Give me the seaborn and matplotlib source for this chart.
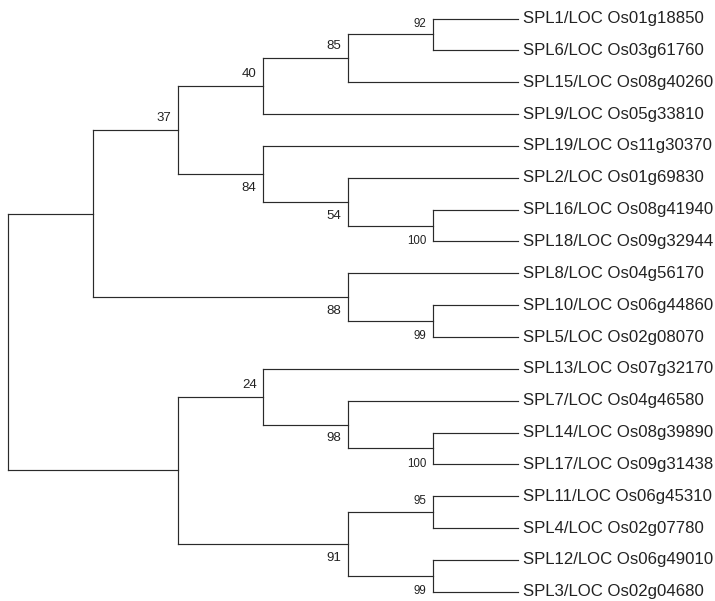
import matplotlib
matplotlib.use("Agg")
import matplotlib.pyplot as plt
import seaborn as sns
import pandas as pd

# ---- data -------------------------------------------------------------
leaf_ids = ["SPL1", "SPL6", "SPL15", "SPL9", "SPL19", "SPL2", "SPL16", "SPL18",
            "SPL8", "SPL10", "SPL5", "SPL13", "SPL7", "SPL14", "SPL17", "SPL11",
            "SPL4", "SPL12", "SPL3"]
leaf_loci = ["LOC Os01g18850", "LOC Os03g61760", "LOC Os08g40260", "LOC Os05g33810",
             "LOC Os11g30370", "LOC Os01g69830", "LOC Os08g41940", "LOC Os09g32944",
             "LOC Os04g56170", "LOC Os06g44860", "LOC Os02g08070", "LOC Os07g32170",
             "LOC Os04g46580", "LOC Os08g39890", "LOC Os09g31438", "LOC Os06g45310",
             "LOC Os02g07780", "LOC Os06g49010", "LOC Os02g04680"]

node_ids = ["N1", "N2", "N3", "N4", "N5", "N6", "N7", "N8", "N9", "N10",
            "N11", "N12", "N13", "N14", "N15", "N16", "N17", "ROOT"]
node_upper = ["SPL1", "N1", "N2", "SPL16", "SPL2", "SPL19", "N3", "SPL10", "SPL8", "N7",
              "SPL14", "SPL7", "SPL13", "SPL11", "SPL12", "N14", "N13", "N10"]
node_lower = ["SPL6", "SPL15", "SPL9", "SPL18", "N4", "N5", "N6", "SPL5", "N8", "N9",
              "SPL17", "N11", "N12", "SPL4", "SPL3", "N15", "N16", "N17"]
node_support = [92, 85, 40, 100, 54, 84, 37, 99, 88, None,
                100, 98, 24, 95, 99, 91, None, None]

# ---- layout (cladogram) -----------------------------------------------
ypos = {lid: i for i, lid in enumerate(leaf_ids)}
height = {lid: 0 for lid in leaf_ids}
children = {}
parent = {}
for nid, up, lo in zip(node_ids, node_upper, node_lower):
    children[nid] = (up, lo)
    parent[up] = (nid, "upper")
    parent[lo] = (nid, "lower")
    ypos[nid] = (ypos[up] + ypos[lo]) / 2.0
    height[nid] = 1 + max(height[up], height[lo])

H = height["ROOT"]
xpos = {k: H - h for k, h in height.items()}

rows = []
seg = 0
for nid in node_ids:
    up, lo = children[nid]
    x = xpos[nid]
    rows += [(x, ypos[up], seg), (x, ypos[lo], seg)]
    seg += 1
    for c in (up, lo):
        rows += [(x, ypos[c], seg), (xpos[c], ypos[c], seg)]
        seg += 1
df = pd.DataFrame(rows, columns=["x", "y", "seg"])

# ---- figure --------------------------------------------------------------
W, Hpx = 715, 601
fig = plt.figure(figsize=(W / 100, Hpx / 100), dpi=100)
ax = fig.add_axes([0, 0, 1, 1])

x0, dx = 8.0, 85.0      # pixel of level 0, pixels per level
y0, dy = 18.5, 31.85    # pixel of first leaf, pixels per leaf

sns.lineplot(data=df, x="x", y="y", units="seg", estimator=None, sort=False,
             color="#2a2a2a", linewidth=0.85, ax=ax, legend=False)

ax.set_xlim(-x0 / dx, (W - x0) / dx)
ax.set_ylim((Hpx - y0) / dy, -y0 / dy)
ax.axis("off")

font = ["Liberation Sans", "DejaVu Sans"]
for lid, loc in zip(leaf_ids, leaf_loci):
    ax.annotate(f"{lid}/{loc}", (xpos[lid], ypos[lid]), xytext=(3.4, 0),
                textcoords="offset points", ha="left", va="center",
                fontsize=12.1, family=font, color="#222222")

for nid, s in zip(node_ids, node_support):
    if s is None:
        continue
    pos = parent[nid][1]
    small = xpos[nid] == H - 1
    if pos == "upper":
        oy = 7.8 if small else 8.6
    else:
        oy = -11.0 if small else -10.0
    ax.annotate(str(s), (xpos[nid], ypos[nid]), xytext=(-4.6, oy),
                textcoords="offset points", ha="right", va="center",
                fontsize=8.3 if small else 9.5, family=font, color="#222222")

fig.savefig("out.png", dpi=100)
